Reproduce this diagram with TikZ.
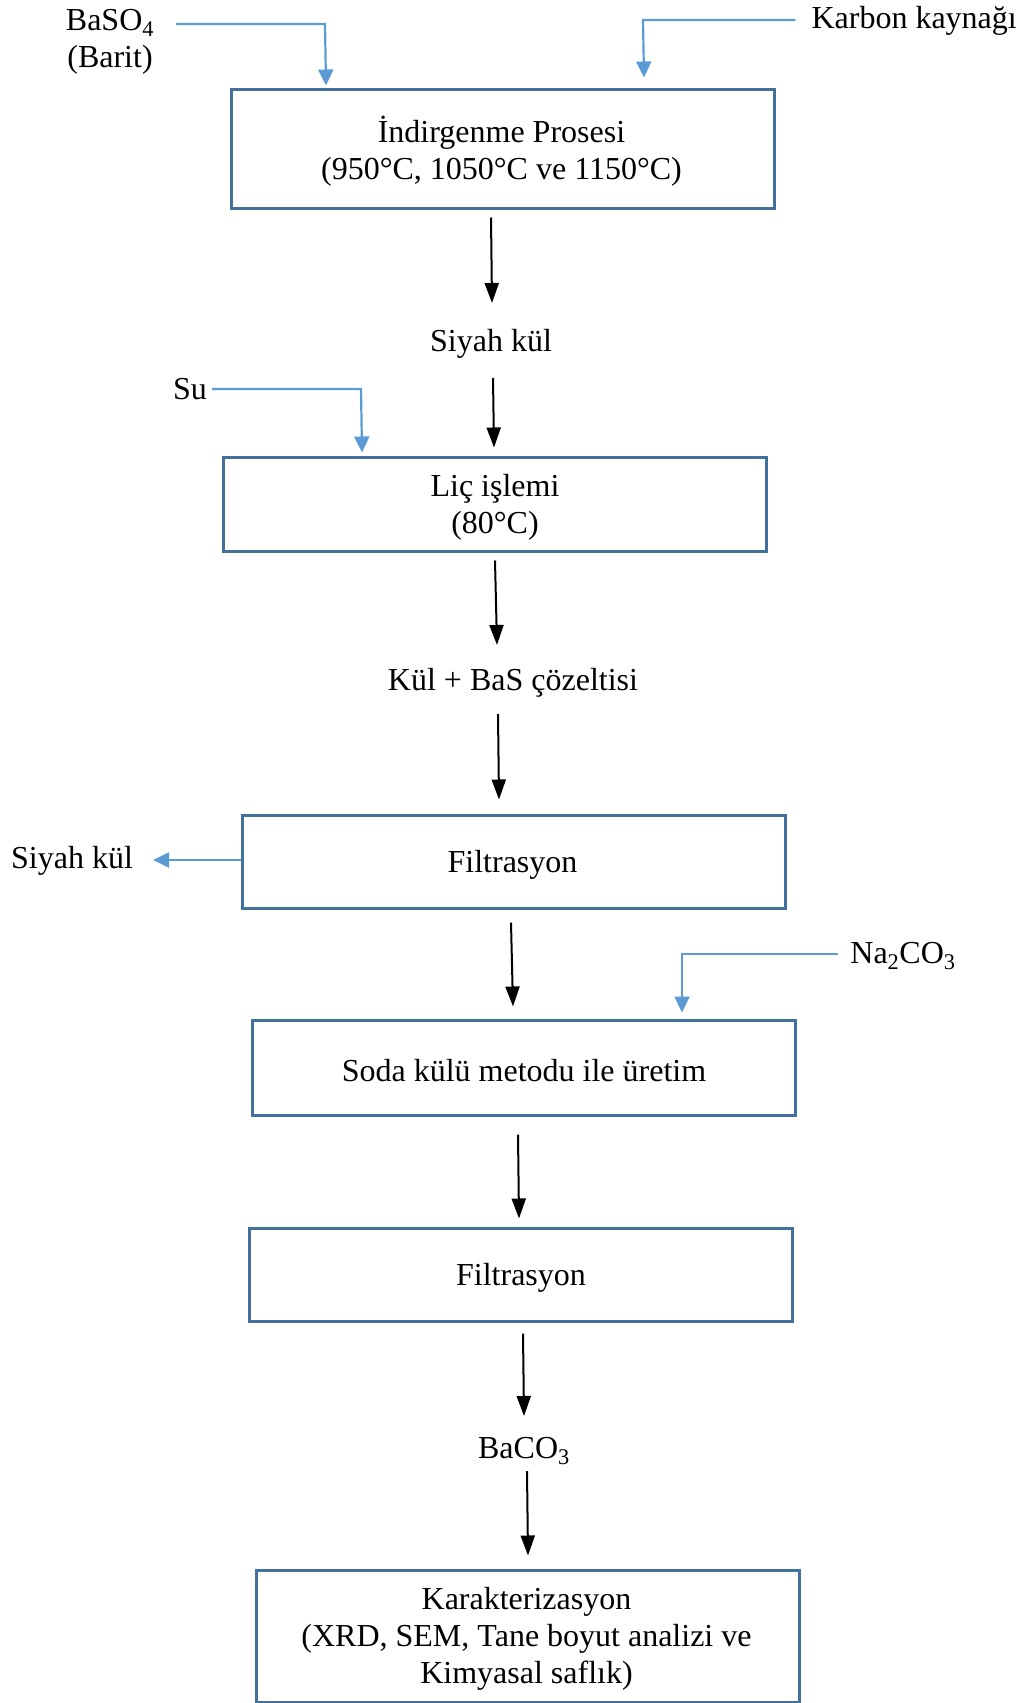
\documentclass[tikz,border=0pt]{standalone}
\usepackage{fontspec}
\setmainfont{Liberation Serif}
\usetikzlibrary{calc,arrows.meta}
\definecolor{boxline}{HTML}{41719C}
\definecolor{feedline}{HTML}{5B9BD5}
\begin{document}
\begin{tikzpicture}[x=1pt,y=-1pt,
  txt/.style={font=\fontsize{32}{37}\selectfont, inner sep=0pt, align=center},
  procbox/.style={draw=boxline, line width=3pt, minimum width=543pt, inner sep=0pt},
  flow/.style={draw=black, line width=2pt, -{Triangle[length=20pt,width=14pt]}},
  feed/.style={draw=feedline, line width=2.2pt, -{Triangle[length=16pt,width=15pt]}}]
\useasboundingbox (0,0) rectangle (1029,1703);

% process boxes
\node[procbox, minimum height=119pt] (b1) at (502.5,148.5) {};
\node[procbox, minimum height=94pt] (b2) at (495,504) {};
\node[procbox, minimum height=93pt] (b3) at (513.5,861.5) {};
\node[procbox, minimum height=95pt] (b4) at (524,1067.5) {};
\node[procbox, minimum height=93pt] (b5) at (521,1274.5) {};
\node[procbox, minimum height=132pt] (b6) at (527.5,1636) {};

% box captions
\node[txt] (t1) at ($(b1.center)+(-1,3)$) {İndirgenme Prosesi\\(950°C, 1050°C ve 1150°C)};
\node[txt] (t2) at ($(b2.center)+(0,3)$) {Liç işlemi\\(80°C)};
\node[txt] (t3) at ($(b3.center)+(-1,3)$) {Filtrasyon};
\node[txt] (t4) at ($(b4.center)+(0,3)$) {Soda külü metodu ile üretim};
\node[txt] (t5) at ($(b5.center)+(0,3)$) {Filtrasyon};
\node[txt] (t6) at ($(b6.center)+(-1,3)$) {Karakterizasyon\\(XRD, SEM, Tane boyut analizi ve\\Kimyasal saflık)};

% intermediate products
\node[txt] (sk1) at (491,344) {Siyah kül};
\node[txt] (kul) at (513,683) {Kül + BaS çözeltisi};
\node[txt] (baco) at (524,1451) {BaCO\textsubscript{3}};

% inputs and outputs
\node[txt] (baso) at (110,42) {BaSO\textsubscript{4}\\(Barit)};
\node[txt, anchor=east] (karbon) at (1017,21) {Karbon kaynağı};
\node[txt] (su) at (190,389) {Su};
\node[txt] (sk2) at (72,861) {Siyah kül};
\node[txt] (naco) at (903,956) {Na\textsubscript{2}CO\textsubscript{3}};

% main flow
\draw[flow] ($(b1.south)+(-11.5,8)$) -- ($(sk1.center)+(1,-41)$);
\draw[flow] ($(sk1.center)+(2,34)$) -- ($(b2.north)+(-1,-8)$);
\draw[flow] ($(b2.south)+(0,8)$) -- ($(kul.center)+(-16,-38)$);
\draw[flow] ($(kul.center)+(-15,31)$) -- ($(b3.north)+(-14.5,-14)$);
\draw[flow] ($(b3.south)+(-2.5,13)$) -- ($(b4.north)+(-11,-12)$);
\draw[flow] ($(b4.south)+(-6,18)$) -- ($(b5.north)+(-2,-8)$);
\draw[flow] ($(b5.south)+(2,11)$) -- ($(baco.center)+(0,-35)$);
\draw[flow] ($(baco.center)+(3,20)$) -- ($(b6.north)+(0.5,-13)$);

% feeds
\coordinate (k0) at (176,24);
\coordinate (k1) at (325,24);
\draw[feed] (k0) -- (k1) -- ($(k1 |- b1.north)+(1,-2)$);
\coordinate (k2) at (643,20);
\draw[feed] ($(karbon.west)+(-16,-1)$) -- (k2) -- ($(k2 |- b1.north)+(1,-10)$);
\coordinate (k3) at (361,389);
\draw[feed] ($(su.east)+(5,0)$) -- (k3) -- ($(k3 |- b2.north)+(1,-3)$);
\coordinate (k4) at (682,954);
\draw[feed] ($(naco.west)+(-12,-2)$) -- (k4) -- ($(k4 |- b4.north)+(0,-6)$);
\draw[feed] (b3.west |- 0,860) -- ($(sk2.east)+(20,-1)$);
\end{tikzpicture}
\end{document}
